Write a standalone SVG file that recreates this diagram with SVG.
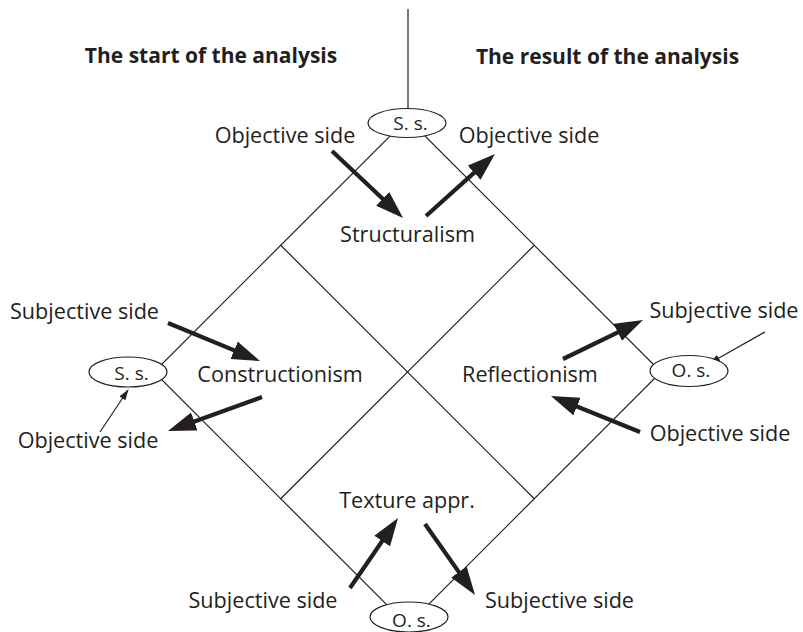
<svg xmlns="http://www.w3.org/2000/svg" width="803" height="632" viewBox="0 0 803 632">
<style>
text{font-family:"Open Sans","Noto Sans","Liberation Sans",sans-serif;fill:#231f20;text-anchor:middle}
.lbl{font-size:21.6px}
.hd{font-size:21px;font-weight:bold}
.sm{font-size:19px}
.ln{stroke:#231f20;stroke-width:1.2;fill:none}
.ar{stroke:#231f20;stroke-width:4.2;fill:none;marker-end:url(#big)}
.th{stroke:#231f20;stroke-width:1.2;fill:none;marker-end:url(#small)}
.el{fill:#fff;stroke:#231f20;stroke-width:1.2}
</style>
<defs>
<marker id="big" markerUnits="userSpaceOnUse" markerWidth="30" markerHeight="20" refX="8" refY="9.5" orient="auto">
<path d="M0,0 L28,9.5 L0,19 z" fill="#231f20"/>
</marker>
<marker id="small" markerUnits="userSpaceOnUse" markerWidth="12" markerHeight="8" refX="10" refY="3.5" orient="auto">
<path d="M0,0 L11,3.5 L0,7 z" fill="#231f20"/>
</marker>
</defs>
<rect width="803" height="632" fill="#fff"/>
<g id="frame">
<line class="ln" x1="408" y1="9" x2="408" y2="110"/>
<polygon class="ln" points="407.5,118.5 661,372 407.5,625.5 154,372"/>
<line class="ln" x1="280.75" y1="245.25" x2="534.25" y2="498.75"/>
<line class="ln" x1="534.25" y1="245.25" x2="280.75" y2="498.75"/>
</g>
<g id="connectors">
<line class="ar" x1="332" y1="151" x2="388.5" y2="204.3"/>
<line class="ar" x1="426" y1="216" x2="480.1" y2="167.4"/>
<line class="ar" x1="168" y1="323" x2="241.5" y2="353.4"/>
<line class="ar" x1="262" y1="397" x2="186.8" y2="424.2"/>
<line class="ar" x1="563" y1="359" x2="625" y2="328.8"/>
<line class="ar" x1="640" y1="432" x2="569.5" y2="403.5"/>
<line class="ar" x1="350" y1="588" x2="386.7" y2="534.5"/>
<line class="ar" x1="425" y1="524" x2="463.5" y2="578.6"/>
<line class="th" x1="100" y1="432" x2="128" y2="390"/>
<line class="th" x1="765" y1="332" x2="710" y2="363"/>
</g>
<g id="heading-start"><text class="hd" x="211" y="63">The start of the analysis</text></g>
<g id="heading-result"><text class="hd" x="607.5" y="64">The result of the analysis</text></g>
<g id="ss-top"><ellipse class="el" cx="407" cy="123" rx="39" ry="14.5"/><text class="sm" x="410.5" y="130">S. s.</text></g>
<g id="ss-left"><ellipse class="el" cx="128" cy="372" rx="39" ry="15"/><text class="sm" x="131.5" y="380">S. s.</text></g>
<g id="os-right"><ellipse class="el" cx="689" cy="371" rx="39" ry="15.5"/><text class="sm" x="691" y="377">O. s.</text></g>
<g id="os-bottom"><ellipse class="el" cx="409" cy="617" rx="39" ry="15"/><text class="sm" x="411.5" y="627">O. s.</text></g>
<g id="structuralism"><text class="lbl" x="407.5" y="242">Structuralism</text></g>
<g id="constructionism"><text class="lbl" x="280" y="382">Constructionism</text></g>
<g id="reflectionism"><text class="lbl" x="530" y="382">Reflectionism</text></g>
<g id="texture"><text class="lbl" x="407" y="508">Texture appr.</text></g>
<g id="obj-top-left"><text class="lbl" x="285" y="143">Objective side</text></g>
<g id="obj-top-right"><text class="lbl" x="529" y="143">Objective side</text></g>
<g id="subj-left"><text class="lbl" x="84.5" y="319">Subjective side</text></g>
<g id="obj-left"><text class="lbl" x="88" y="448">Objective side</text></g>
<g id="subj-right"><text class="lbl" x="724" y="318">Subjective side</text></g>
<g id="obj-right"><text class="lbl" x="720" y="441">Objective side</text></g>
<g id="subj-bottom-left"><text class="lbl" x="263" y="608">Subjective side</text></g>
<g id="subj-bottom-right"><text class="lbl" x="559.5" y="608">Subjective side</text></g>
</svg>
